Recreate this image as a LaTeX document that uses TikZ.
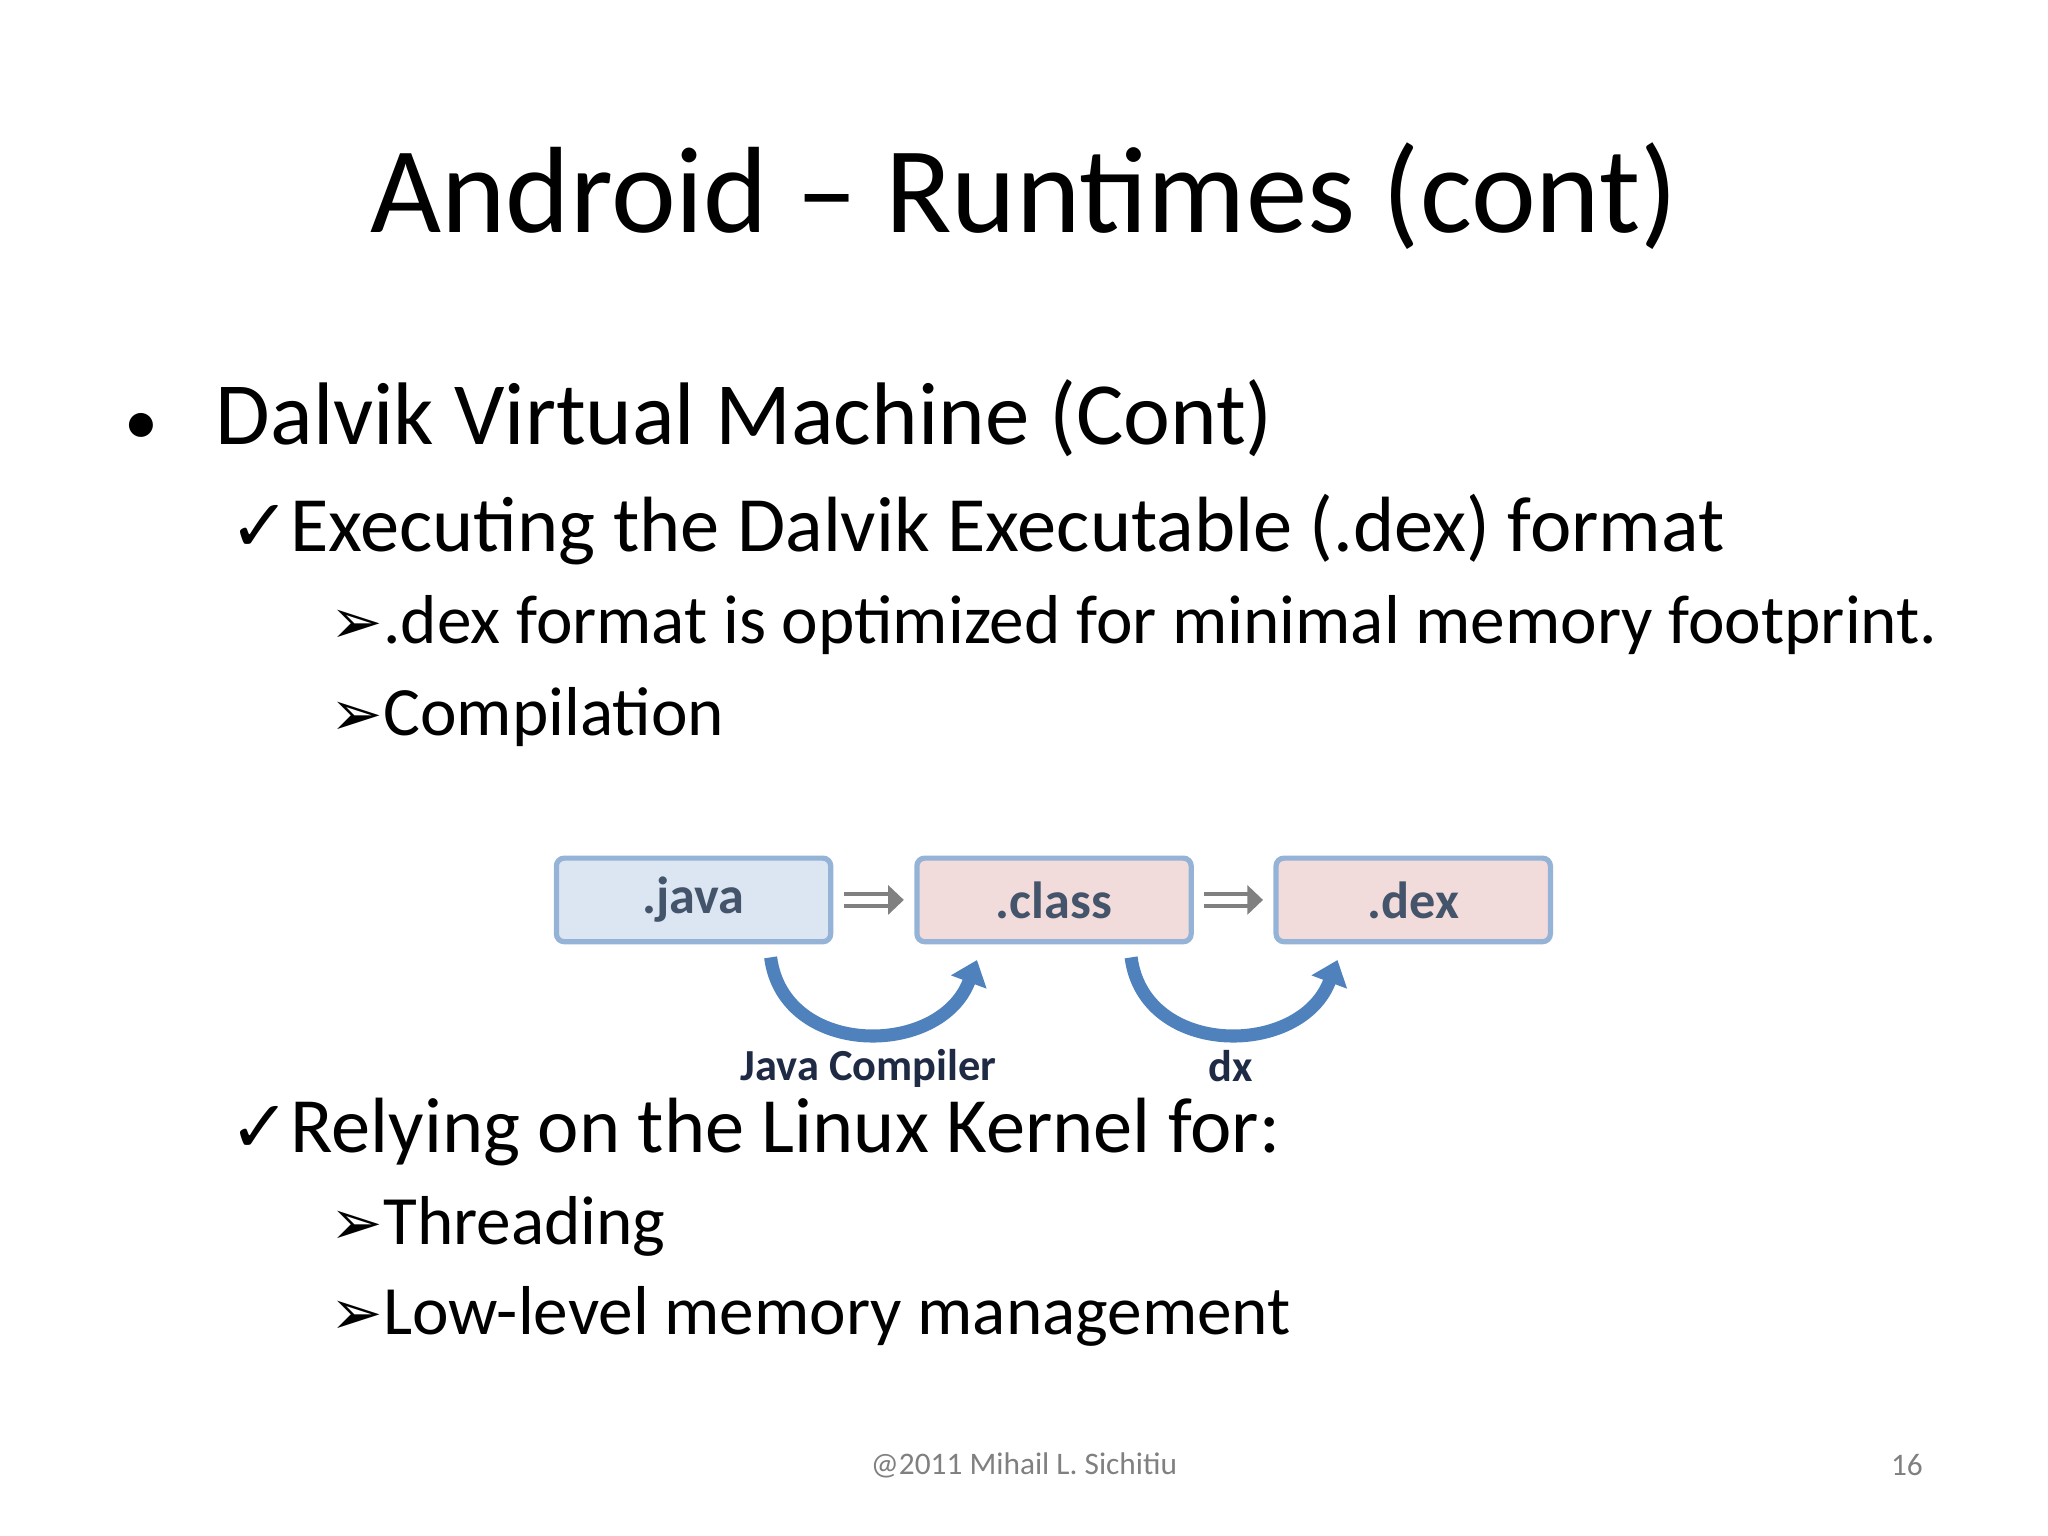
\documentclass[tikz,border=0pt]{standalone}
\usepackage{fontspec}
\setmainfont{Carlito}
\newfontfamily\symf{DejaVu Sans}
\usetikzlibrary{arrows.meta}
\definecolor{bx}{HTML}{95B3D7}
\definecolor{bluef}{HTML}{DCE6F2}
\definecolor{pinkf}{HTML}{F2DCDB}
\definecolor{lbl}{HTML}{44546A}
\definecolor{arr}{HTML}{4F81BD}
\definecolor{navy}{HTML}{1F2A44}
\tikzset{
 fbox/.style={draw=bx,line width=2pt,rounded corners=3pt,minimum width=105pt,minimum height=32pt,font=\bfseries\fontsize{20}{22}\selectfont,text=lbl},
 txt/.style={anchor=base west,inner sep=0pt},
 curv/.style={draw=arr,line width=5pt,-{Triangle[length=9pt,width=14pt]}},
 gar/.style={draw=gray,double,double distance=3pt,line width=1.5pt,-{Triangle[length=6pt,width=11pt]}}
}
\begin{document}
\begin{tikzpicture}[x=0.5pt,y=-0.5pt]
\useasboundingbox (0,0) rectangle (1568,1176);
\node (title) at (784,150) {\fontsize{47}{52}\selectfont Android – Runtimes (cont)};
\node[txt] (b1) at (95,340) {\fontsize{34}{38}\selectfont {\fontsize{26}{30}\selectfont •}\hspace{22pt}Dalvik Virtual Machine (Cont)};
\node[txt] (c1) at (175,422) {\fontsize{30}{34}\selectfont {\symf\fontsize{28}{30}\selectfont ✓}Executing the Dalvik Executable (.dex) format};
\node[txt] (d1) at (253,493) {\fontsize{26.5}{30}\selectfont {\symf\fontsize{24}{26}\selectfont ➢}.dex format is optimized for minimal memory footprint.};
\node[txt] (d2) at (253,563) {\fontsize{26.5}{30}\selectfont {\symf\fontsize{24}{26}\selectfont ➢}Compilation};
\node[txt] (c2) at (175,882) {\fontsize{30}{34}\selectfont {\symf\fontsize{28}{30}\selectfont ✓}Relying on the Linux Kernel for:};
\node[txt] (d3) at (253,953) {\fontsize{26.5}{30}\selectfont {\symf\fontsize{24}{26}\selectfont ➢}Threading};
\node[txt] (d4) at (253,1022) {\fontsize{26.5}{30}\selectfont {\symf\fontsize{24}{26}\selectfont ➢}Low-level memory management};
\node[fbox,fill=bluef] (java) at (531,689) {.java};
\node[fbox,fill=pinkf] (class) at (807,689) {.class};
\node[fbox,fill=pinkf] (dex) at (1082,689) {.dex};
\draw[gar] ([xshift=4]java.east) -- ([xshift=-4]class.west);
\draw[gar] ([xshift=4]class.east) -- ([xshift=-4]dex.west);
\draw[curv] (590,733) .. controls (600,810) and (720,810) .. (748,735);
\draw[curv] (866,733) .. controls (876,810) and (996,810) .. (1024,735);
\node[text=navy,font=\bfseries\fontsize{17}{19}\selectfont] (jc) at (665,818) {Java Compiler};
\node[text=navy,font=\bfseries\fontsize{17}{19}\selectfont] (dx) at (942,816) {dx};
\node[text=gray,font=\fontsize{12}{14}\selectfont] (foot) at (784,1122) {@2011 Mihail L. Sichitiu};
\node[text=gray,font=\fontsize{12}{14}\selectfont] (pg) at (1460,1122) {16};
\end{tikzpicture}
\end{document}
